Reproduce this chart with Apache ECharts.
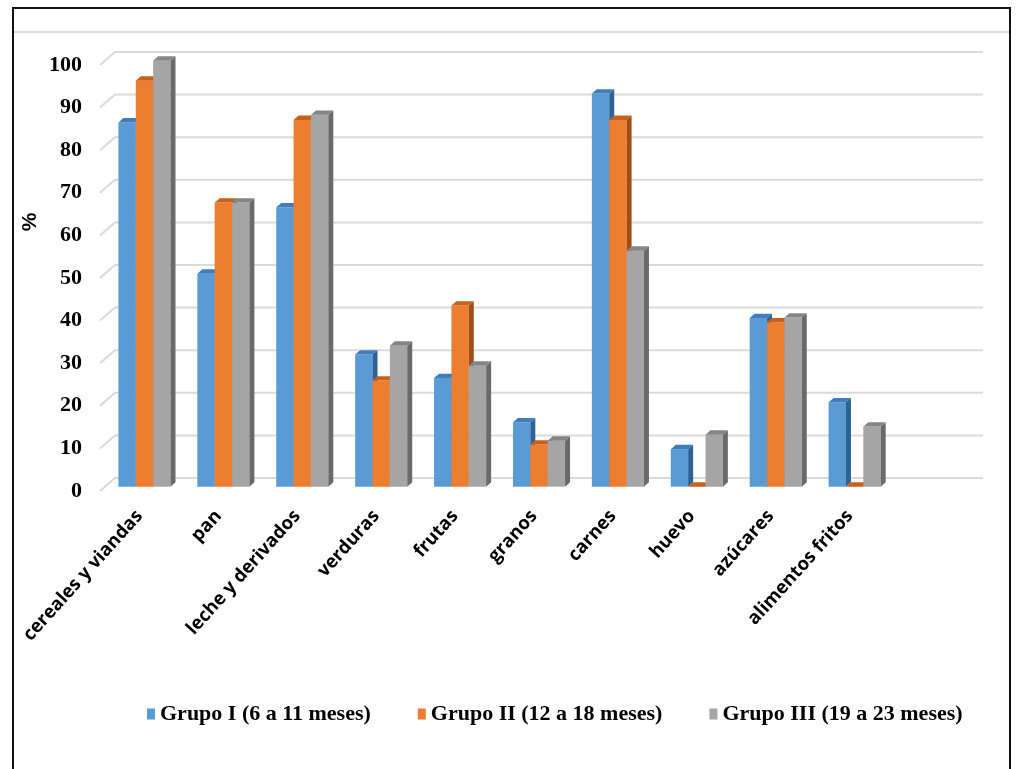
<!DOCTYPE html>
<html>
<head>
<meta charset="utf-8">
<script src="https://cdn.jsdelivr.net/npm/echarts@6/dist/echarts.min.js"></script>
<style>
  html, body { margin: 0; padding: 0; background: #ffffff; }
  #chart { width: 1018px; height: 769px; }
</style>
</head>
<body>
<div id="chart"></div>
<script>
// Food groups consumed by age group (%)
const categories = ['cereales y viandas', 'pan', 'leche y derivados', 'verduras', 'frutas',
  'granos', 'carnes', 'huevo', 'azúcares', 'alimentos fritos'];
const grupoI   = [85.5, 50.0, 65.6, 31.0, 25.5, 15.1, 92.3, 8.8, 39.6, 19.8];
const grupoII  = [95.3, 66.7, 86.1, 24.9, 42.5, 9.9, 86.1, 0, 38.6, 0];
const grupoIII = [100, 66.7, 87.3, 33.1, 28.4, 10.8, 55.4, 12.2, 39.7, 14.1];
const seriesNames = ['Grupo I (6 a 11 meses)', 'Grupo II (12 a 18 meses)', 'Grupo III (19 a 23 meses)'];
const yTicks = [0, 10, 20, 30, 40, 50, 60, 70, 80, 90, 100];

// Face colours: front, top, side
const palettes = [
  { front: '#5b9bd5', top: '#3f7dbd', side: '#2e6194' },
  { front: '#ed7d31', top: '#c7601b', side: '#a24d14' },
  { front: '#a5a5a5', top: '#858585', side: '#6a6a6a' }
];

// Depth of the 3D floor (projected offset from front to back)
const DEPTH = { x: 15, y: -13 };
const BAR_FRAC = 0.22; // bar width relative to category band

const chart = echarts.init(document.getElementById('chart'));

function barRenderer(idx) {
  return function (params, api) {
    const cat = api.value(0);
    const val = api.value(1);
    const band = api.size([1, 0])[0];
    const bw = band * BAR_FRAC;
    const base = api.coord([cat, 0]);
    const topPt = api.coord([cat, val]);
    // bars sit in the middle third of the floor depth
    const fx = DEPTH.x / 3, fy = DEPTH.y / 3;
    const dx = DEPTH.x / 3, dy = DEPTH.y / 3;
    const x0 = base[0] + fx - 1.5 * bw + idx * bw;
    const x1 = x0 + bw;
    const yb = base[1] + fy;
    const yt = topPt[1] + fy;
    const c = palettes[idx];
    const children = [];
    if (yb - yt > 0.1) {
      children.push({ type: 'rect', shape: { x: x0, y: yt, width: bw, height: yb - yt },
        style: { fill: c.front } });
      children.push({ type: 'polygon', shape: { points: [[x1, yt], [x1 + dx, yt + dy], [x1 + dx, yb + dy], [x1, yb]] },
        style: { fill: c.side } });
    }
    children.push({ type: 'polygon', shape: { points: [[x0, yt], [x0 + dx, yt + dy], [x1 + dx, yt + dy], [x1, yt]] },
      style: { fill: c.top } });
    return { type: 'group', children: children };
  };
}

function gridRenderer(params, api) {
  const cs = params.coordSys;
  const y = api.coord([0, api.value(1)])[1];
  const xl = cs.x, xr = cs.x + cs.width;
  return {
    type: 'polyline',
    shape: { points: [[xl, y], [xl + DEPTH.x, y + DEPTH.y], [xr + DEPTH.x, y + DEPTH.y]] },
    style: { stroke: '#dadada', lineWidth: 2, fill: 'none' }
  };
}

const groups = [grupoI, grupoII, grupoIII];

const option = {
  animation: false,
  backgroundColor: '#ffffff',
  color: palettes.map(p => p.front),
  grid: { left: 100, right: 50, top: 65, bottom: 278, containLabel: false },
  xAxis: {
    type: 'category',
    data: categories.concat(['']),
    boundaryGap: true,
    axisLine: { show: false },
    axisTick: { show: false },
    splitLine: { show: false },
    axisLabel: {
      interval: 0,
      rotate: 48,
      margin: 22,
      color: '#000000',
      fontFamily: 'Open Sans',
      fontWeight: 'bold',
      fontSize: 18.5
    }
  },
  yAxis: {
    type: 'value',
    min: 0,
    max: 100,
    interval: 10,
    axisLine: { show: false },
    axisTick: { show: false },
    splitLine: { show: false },
    axisLabel: {
      margin: 18,
      color: '#000000',
      fontFamily: 'Liberation Serif',
      fontWeight: 'bold',
      fontSize: 22
    }
  },
  legend: {
    data: seriesNames,
    left: 142,
    top: 698,
    itemWidth: 8,
    itemHeight: 11,
    itemGap: 47,
    icon: 'rect',
    textStyle: {
      color: '#000000',
      fontFamily: 'Liberation Serif',
      fontWeight: 'bold',
      fontSize: 22
    }
  },
  graphic: [
    { type: 'rect', shape: { x: 13, y: 8, width: 997, height: 800 },
      style: { fill: 'none', stroke: '#111111', lineWidth: 2 }, z: 10 },
    { type: 'line', shape: { x1: 14, y1: 32, x2: 1009, y2: 32 },
      style: { stroke: '#d9d9d9', lineWidth: 2 } },
    { type: 'text', x: 30, y: 222, rotation: Math.PI / 2,
      style: { text: '%', fill: '#000000', font: 'bold 21px "Liberation Sans"',
        textAlign: 'center', textVerticalAlign: 'middle' } }
  ],
  series: [
    {
      name: 'grid',
      type: 'custom',
      renderItem: gridRenderer,
      data: yTicks.map(v => [0, v]),
      z: 1,
      silent: true
    }
  ].concat(groups.map((vals, i) => ({
    name: seriesNames[i],
    type: 'custom',
    renderItem: barRenderer(i),
    itemStyle: { color: palettes[i].front },
    data: vals.map((v, k) => [k, v]),
    z: 2
  })))
};

chart.setOption(option);
</script>
</body>
</html>
